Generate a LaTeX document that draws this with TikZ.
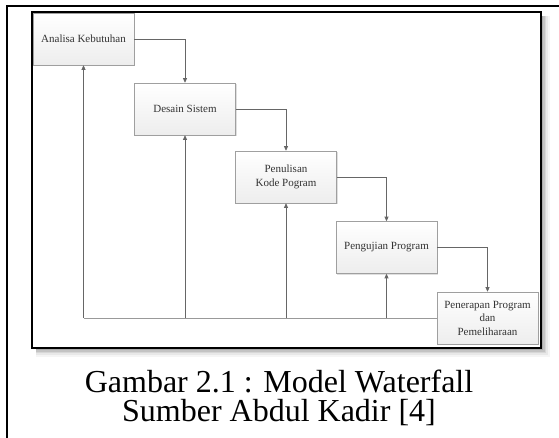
\documentclass[tikz,border=0pt]{standalone}
\usepackage{fontspec}
\setmainfont{Liberation Serif}
\usetikzlibrary{arrows.meta,shadows}
\tikzset{
  stage/.style={draw=gray!75, line width=0.6pt, top color=white, bottom color=gray!14,
    minimum width=101pt, minimum height=52pt, inner sep=1pt, align=center,
    font=\fontsize{11pt}{13.5pt}\selectfont, text=black!80,
    drop shadow={shadow xshift=1.2pt, shadow yshift=-1.2pt, opacity=0.25}},
  flow/.style={draw=gray!80, line width=0.7pt, -{Triangle[length=4.5pt,width=4pt]}, color=gray!80!black},
  plain/.style={draw=gray!80, line width=0.7pt},
  caption/.style={align=center, font=\fontsize{32pt}{29pt}\selectfont, inner sep=0pt}
}
\begin{document}
\begin{tikzpicture}[x=1pt,y=-1pt]
\useasboundingbox (0,0) rectangle (559,437);
\fill[white] (0,0) rectangle (559,437);
% outer frame (top and left visible)
\draw[line width=2pt] (7,438) -- (7,5.8) -- (560,5.8);
% inner frame shadow
\foreach \o/\a in {9/0.04,7/0.05,5/0.07,3.5/0.09,2/0.12}{
  \fill[black, opacity=\a] (36,16) rectangle (541+\o,348+\o);
}
\fill[white] (32,12) rectangle (541,348);
\draw[line width=2.6pt] (32,12) rectangle (541,348);
% stages
\node[stage] (A) at (83.5,39) {Analisa Kebutuhan};
\node[stage] (D) at (185,109) {Desain Sistem};
\node[stage] (P) at (286,177) {Penulisan\\Kode Pogram};
\node[stage] (U) at (386.5,247.5) {Pengujian Program};
\node[stage] (R) at (487.5,318) {Penerapan Program\\dan\\Pemeliharaan};
% forward flow
\draw[flow] (A.east) -| (D.north);
\draw[flow] (D.east) -| (P.north);
\draw[flow] (P.east) -| (U.north);
\draw[flow] (U.east) -| (R.north);
% feedback
\draw[plain] (R.west) -- (R.west -| A.south);
\draw[flow] (R.west -| A.south) -- (A.south);
\draw[flow] (R.west -| D.south) -- (D.south);
\draw[flow] (R.west -| P.south) -- (P.south);
\draw[flow] (R.west -| U.south) -- (U.south);
% caption
\node[caption] (cap) at (279,398) {Gambar 2.1 : Model Waterfall\\Sumber Abdul Kadir [4]};
\end{tikzpicture}
\end{document}
